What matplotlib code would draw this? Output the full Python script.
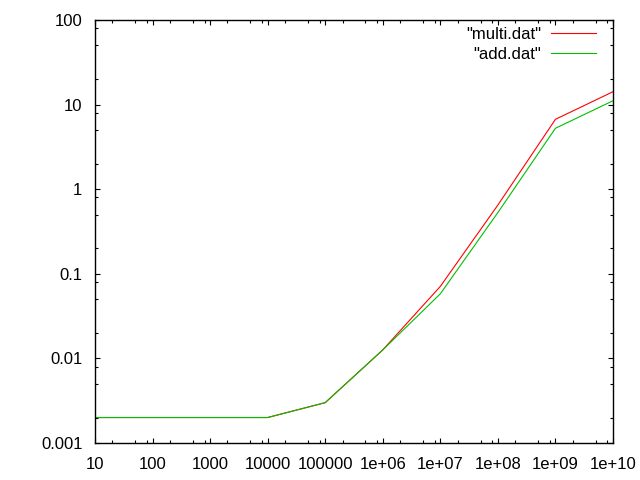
import matplotlib
matplotlib.use('Agg')
from matplotlib import pyplot as plt
from matplotlib.ticker import FixedLocator, LogLocator, NullFormatter

plt.rcParams['font.family'] = ['Liberation Sans', 'DejaVu Sans']

n = [10, 100, 1000, 10000, 100000, 1e6, 1e7, 1e8, 1e9, 1e10]

multi = [0.002, 0.002, 0.002, 0.002, 0.003, 0.0126, 0.071, 0.65, 6.7, 14.2]
add = [0.002, 0.002, 0.002, 0.002, 0.003, 0.0126, 0.058, 0.53, 5.25, 11.1]

xtick_labels = ['10', '100', '1000', '10000', '100000',
                '1e+06', '1e+07', '1e+08', '1e+09', '1e+10']
yticks = [0.001, 0.01, 0.1, 1, 10, 100]
ytick_labels = ['0.001', '0.01', '0.1', '1', '10', '100']

fig = plt.figure(figsize=(6.4, 4.8), dpi=100)
ax = fig.add_axes([95/640, 1 - 443/480, (613 - 95)/640, (443 - 20)/480])

ax.plot(n, multi, color='#ff0000', lw=0.8, label='"multi.dat"')
ax.plot(n, add, color='#00c000', lw=0.8, label='"add.dat"')

ax.set_xscale('log')
ax.set_yscale('log')
ax.set_xlim(10, 1e10)
ax.set_ylim(0.001, 100)

ax.xaxis.set_major_locator(FixedLocator(n))
ax.set_xticklabels(xtick_labels)
ax.yaxis.set_major_locator(FixedLocator(yticks))
ax.set_yticklabels(ytick_labels)

# gnuplot puts minor tics at 2, 5, 8 here
for axis in [ax.xaxis, ax.yaxis]:
    axis.set_minor_locator(LogLocator(base=10, subs=[2, 5, 8], numticks=20))
    axis.set_minor_formatter(NullFormatter())

ax.tick_params(which='both', direction='in', top=True, right=True,
               labelsize=12, width=0.8, color='black')
ax.tick_params(which='major', length=3.4)
ax.tick_params(which='minor', length=1.9)
ax.tick_params(axis='x', which='major', pad=10)
ax.tick_params(axis='y', which='major', pad=9)

for s in ax.spines.values():
    s.set_linewidth(1.0)

ax.legend(loc='upper right', bbox_to_anchor=(596/640, 1 - 27/480),
          bbox_transform=fig.transFigure, frameon=False, markerfirst=False,
          fontsize=12, handlelength=2.7, handletextpad=0.6,
          borderpad=0, borderaxespad=0, labelspacing=0.3)

plt.savefig('out.png', dpi=100)
